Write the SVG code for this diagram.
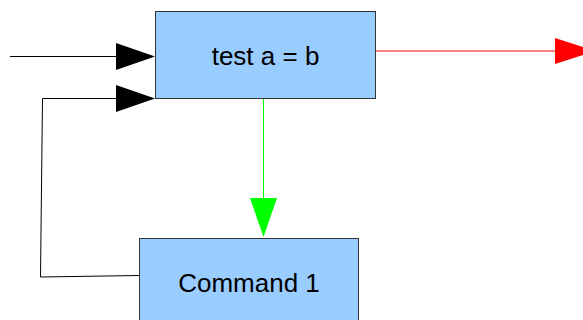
<svg xmlns="http://www.w3.org/2000/svg" width="583" height="320" viewBox="0 0 583 320">
  <style>
    .box { fill: #99ccff; stroke: #333333; stroke-width: 1; }
    .label { font-family: "Liberation Sans", Arial, sans-serif; font-size: 26px; fill: #000000; text-anchor: middle; }
    .wire { fill: none; stroke-width: 1; }
  </style>
  <g id="connectors">
    <!-- input into the test -->
    <line class="wire" x1="10" y1="56.5" x2="117" y2="56.5" stroke="#000000"/>
    <polygon points="116,43 155,56.5 116,70" fill="#000000"/>
    <!-- loop back from Command 1 -->
    <polyline class="wire" points="139,275.5 40.5,277 42.5,98.5 117,98.5" stroke="#000000"/>
    <polygon points="116,85 155,98.5 116,112" fill="#000000"/>
    <!-- true branch -->
    <line class="wire" x1="263.5" y1="98" x2="263.5" y2="200" stroke="#00ff00"/>
    <polygon points="250,198 277,198 263.5,237" fill="#00ff00"/>
    <!-- false branch -->
    <line class="wire" x1="376" y1="51" x2="556" y2="51" stroke="#ff0000"/>
    <polygon points="555,38 595,51 555,64" fill="#ff0000"/>
  </g>
  <g id="test">
    <rect class="box" x="155.5" y="11.5" width="220" height="87"/>
    <text class="label" x="265.5" y="64.5">test a = b</text>
  </g>
  <g id="command1">
    <rect class="box" x="139.5" y="238.5" width="219" height="95"/>
    <text class="label" x="249" y="291.5">Command 1</text>
  </g>
</svg>
